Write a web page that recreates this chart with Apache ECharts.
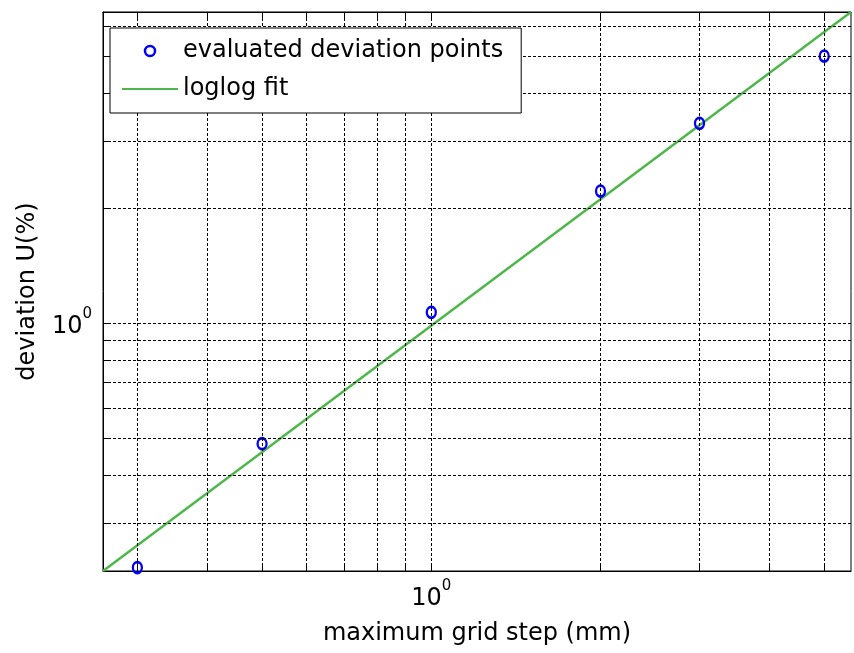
<!DOCTYPE html>
<html><head><meta charset="utf-8">
<script src="https://cdn.jsdelivr.net/npm/echarts@6/dist/echarts.min.js"></script>
<style>html,body{margin:0;padding:0;background:#fff}#c{width:854px;height:653px}</style>
</head><body><div id="c"></div>
<script>
// Data
const gridStep = [0.3, 0.5, 1, 2, 3, 5];                 // maximum grid step (mm)
const deviation = [0.229, 0.483, 1.067, 2.216, 3.333, 5.0]; // deviation U(%)
const fitStep = [0.2606, 5.58];                           // loglog fit end points (x)
const fitDeviation = [0.2243, 6.52];                      // loglog fit end points (y)
const xGridValues = [0.3, 0.4, 0.5, 0.6, 0.7, 0.8, 0.9, 1, 2, 3, 4, 5];
const yGridValues = [0.3, 0.4, 0.5, 0.6, 0.7, 0.8, 0.9, 1, 2, 3, 4, 5, 6];
const labelExponents = [0];                               // tick labels: 10^0

const FONT = 'DejaVu Sans';
const rich = {
  b: {fontSize: 24, fontFamily: FONT, color: '#000', padding: [8, 0, 0, 0]},
  s: {fontSize: 15, fontFamily: FONT, color: '#000', verticalAlign: 'top'}
};
function fmt(v) {
  const e = Math.log10(v), r = Math.round(e);
  return (Math.abs(e - r) < 1e-6 && labelExponents.includes(r)) ? '{b|10}{s|' + r + '}' : '';
}
const chart = echarts.init(document.getElementById('c'));
function axis(extra) {
  return Object.assign({
    type: 'log', logBase: 10,
    nameLocation: 'middle',
    nameTextStyle: {fontSize: 24, fontFamily: FONT, color: '#000'},
    axisLine: {show: true, lineStyle: {color: '#000', width: 1}},
    axisTick: {show: true, inside: true, length: 8, lineStyle: {color: '#000', width: 1}},
    axisLabel: {formatter: fmt, rich: rich, color: '#000', showMinLabel: true, showMaxLabel: true},
    splitLine: {show: false},
    minorTick: {show: false}, minorSplitLine: {show: false}
  }, extra);
}
chart.setOption({
  animation: false,
  backgroundColor: '#fff',
  grid: {left: 103, top: 12, width: 752, height: 559, show: true, borderColor: '#000', borderWidth: 1, backgroundColor: '#fff'},
  xAxis: [
    axis({min: fitStep[0], max: fitStep[1], name: 'maximum grid step (mm)', nameGap: 51,
          axisTick: {show: true, inside: true, length: 8, customValues: xGridValues, lineStyle: {color: '#000', width: 1}},
          axisLabel: {formatter: fmt, rich: rich, color: '#000', margin: 8}}),
    axis({min: fitStep[0], max: fitStep[1], position: 'top', name: '',
          axisTick: {show: true, inside: true, length: 8, customValues: xGridValues, lineStyle: {color: '#000', width: 1}},
          axisLabel: {show: false}})
  ],
  yAxis: [
    axis({min: fitDeviation[0], max: fitDeviation[1], name: 'deviation U(%)', nameGap: 63,
          axisTick: {show: true, inside: true, length: 8, customValues: yGridValues, lineStyle: {color: '#000', width: 1}},
          axisLabel: {formatter: fmt, rich: rich, color: '#000', margin: 11}})
  ],
  legend: {
    left: 110, top: 28, orient: 'vertical',
    data: [
      {name: 'evaluated deviation points', itemStyle: {borderWidth: 2.5, borderColor: '#0000ff'}},
      {name: 'loglog fit', itemStyle: {opacity: 0}}
    ],
    itemWidth: 56, itemHeight: 10, itemGap: 14,
    padding: [11, 18, 12, 11],
    backgroundColor: '#fff', borderColor: '#000', borderWidth: 1, borderRadius: 0,
    textStyle: {fontSize: 24, fontFamily: FONT, color: '#000'},
    selectedMode: false, z: 10
  },
  series: [
    {
      type: 'line', name: '_grid', data: [], silent: true, z: 1,
      markLine: {
        silent: true, symbol: ['none', 'none'], label: {show: false}, animation: false,
        lineStyle: {color: '#000', type: [3, 2], width: 1},
        emphasis: {disabled: true},
        data: xGridValues.map(v => ({xAxis: v})).concat(yGridValues.map(v => ({yAxis: v})))
      }
    },
    {
      type: 'line', name: 'loglog fit', z: 3,
      data: fitStep.map((x, i) => [x, fitDeviation[i]]),
      symbol: 'none', showSymbol: false,
      lineStyle: {color: '#4db74a', width: 2.5}, itemStyle: {color: '#4db74a'}
    },
    {
      type: 'scatter', name: 'evaluated deviation points', z: 4, clip: false,
      data: gridStep.map((x, i) => [x, deviation[i]]),
      symbol: 'circle', symbolSize: [9, 11],
      itemStyle: {color: 'rgba(255,255,255,0)', borderColor: '#0000ff', borderWidth: 2.5, opacity: 1},
      emphasis: {disabled: true}
    }
  ]
});
</script></body></html>
